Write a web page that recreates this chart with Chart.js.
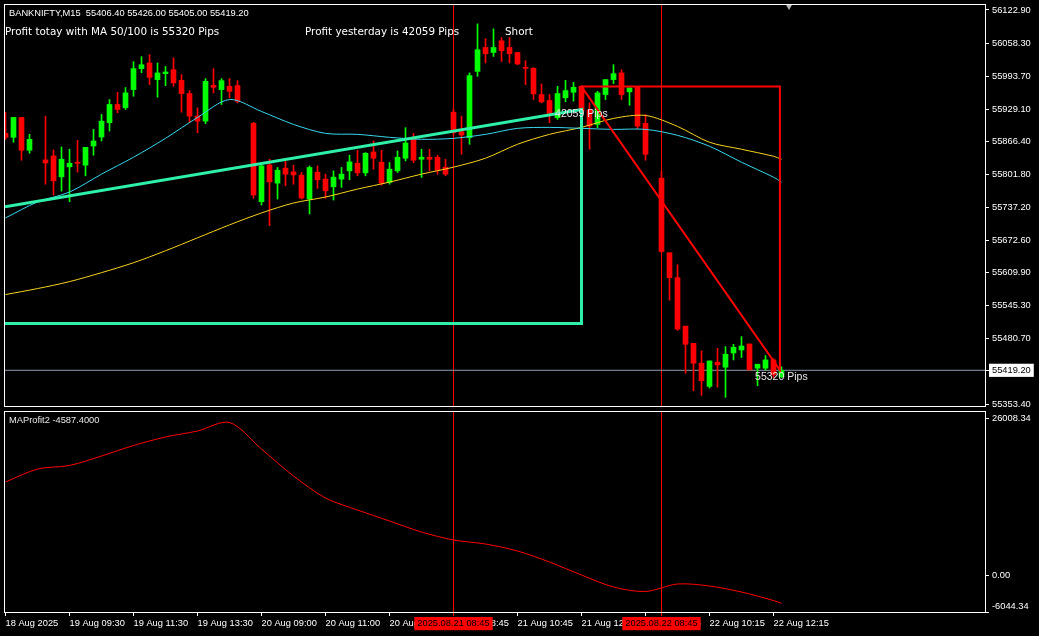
<!DOCTYPE html>
<html>
<head>
<meta charset="utf-8">
<script src="https://cdn.jsdelivr.net/npm/chart.js@4.4.1/dist/chart.umd.min.js"></script>
<style>
  html, body { margin: 0; padding: 0; background: #000; }
  #wrap { position: relative; width: 1039px; height: 636px; background: #000; overflow: hidden; }
  #main { position: absolute; left: 0; top: 0; }
  #sub  { position: absolute; left: 0; top: 409px; }
</style>
</head>
<body>
<div id="wrap">
  <canvas id="main" width="1039" height="410"></canvas>
  <canvas id="sub" width="1039" height="227"></canvas>
</div>
<script>
/* ── Data (BANKNIFTY M15, one entry per bar, null = not read) ── */
const symbol = 'BANKNIFTY';
const period = 'M15';

const opens = [
  55881.9,55874.2,55913.0,55848.9,null,55830.1,55837.8,55797.0,55816.5,55825.6,
  55819.8,55857.3,55874.8,55902.7,55938.3,55931.9,55967.4,56008.3,56019.3,55986.9,
  55998.5,56006.3,55985.5,55959.7,55915.6,55905.8,55975.8,55967.4,55973.9,55975.2,
  null,55901.4,55748.4,55820.3,55784.8,55813.9,55806.7,55800.3,55753.7,55806.2,
  55792.6,55777.6,55792.6,55808.7,55823.6,55804.8,55845.6,55825.6,55786.1,55808.7,
  55833.4,55871.6,55831.4,55835.3,55835.3,55815.9,55923.3,55885.2,55873.6,56003.0,
  56049.6,56039.9,56062.7,56049.6,56039.9,56010.2,56009.0,55957.7,55946.1,55912.5,
  55951.3,55962.2,55973.9,55927.2,55899.4,55957.7,55986.9,55999.9,55963.0,55972.7,
  55901.4,null,55794.5,55648.8,55600.2,55505.5,55471.9,55433.1,55387.8,55435.0,
  55425.3,55453.1,55458.9,55470.6,55423.4,55423.4,55439.5,55406.4
];
const highs = [
  55922.8,55913.0,55913.0,55880.0,null,55915.6,55849.5,55855.3,55850.9,55868.3,
  55854.7,55889.7,55918.9,55948.0,55962.2,55971.3,56021.9,56031.6,56035.5,56019.3,
  56012.7,56029.6,55996.6,55965.5,55931.9,55988.8,56008.3,55988.8,55988.8,55984.9,
  null,55903.3,55821.7,55831.4,55815.3,55828.1,55819.8,55805.6,55818.4,55818.4,
  55802.3,55808.7,55815.3,55839.2,55848.9,55844.4,55867.0,55848.9,55825.0,55847.6,
  55893.0,55881.9,55850.9,55850.9,55839.2,55831.4,55928.6,55915.6,55999.9,56095.7,
  56066.6,56086.0,56069.1,56069.1,56039.9,56023.8,56010.2,55978.5,55957.7,55973.9,
  55985.5,55981.6,55975.2,55941.6,55964.1,55986.9,56016.0,56006.3,55970.8,55973.9,
  55918.9,null,55808.1,55648.8,55625.4,55505.5,55471.9,55457.0,55437.5,55462.2,
  55465.5,55470.0,55484.9,55470.6,55431.1,55448.0,55442.0,55426.0
];
const lows = [
  55870.3,55864.5,55829.5,55843.1,null,55782.8,55761.5,55769.2,55748.4,55806.2,
  55799.0,55839.2,55867.0,55886.4,55922.2,55928.6,55954.4,56000.5,55977.2,55952.5,
  55975.2,55973.9,55923.3,55902.7,55883.3,55900.8,55961.0,55938.3,55951.3,55941.6,
  null,55755.1,55742.0,55701.8,55753.7,55779.5,55782.8,55753.7,55724.5,55774.5,
  55755.1,55751.8,55776.4,55791.2,55799.0,55799.0,55812.0,55780.9,55782.8,55805.6,
  55828.1,55825.0,55795.9,55808.7,55802.3,55799.0,55878.1,55841.1,55860.6,55993.3,
  56019.3,56032.2,56022.4,56019.3,56016.0,55977.2,55948.0,55941.6,55902.7,55909.2,
  55943.5,55944.7,55922.8,55850.9,55893.0,55948.0,55979.1,55948.0,55936.9,55891.1,
  55829.5,null,55648.8,55556.1,55497.2,55413.6,55379.2,55370.3,55384.5,55386.4,
  55366.4,55439.5,55444.1,55420.0,55389.0,55419.5,55405.0,55405.0
];
const closes = [
  55874.2,55913.0,55848.9,55870.3,null,55824.2,55789.2,55831.4,55823.6,55823.6,
  55854.7,55867.0,55905.8,55938.3,55928.6,55961.0,56008.3,56016.0,55991.3,55999.9,
  56001.8,55980.5,55959.7,55915.6,55905.8,55983.6,55971.9,55984.9,55964.1,55944.7,
  null,55761.5,55818.4,55787.3,55810.0,55802.3,55800.9,55755.6,55815.3,55791.2,
  55769.8,55796.4,55802.3,55826.2,55804.8,55843.1,55833.4,55784.8,55812.0,55835.3,
  55863.1,55829.5,55835.3,55831.4,55810.0,55802.3,55883.3,55878.6,55994.6,56045.2,
  56037.4,56049.6,56043.2,56037.4,56017.4,56009.0,55959.1,55943.5,55920.8,55959.7,
  55965.5,55971.9,55925.3,55896.1,55961.0,55986.9,55998.5,55957.7,55970.8,55896.1,
  55841.1,null,55651.3,55600.2,55499.7,55470.0,55433.1,55398.7,55437.5,55429.8,
  55450.6,55464.2,55466.7,55420.0,55431.1,55439.5,55410.0,55419.2
];

// moving averages and MAProfit2, sampled every 4 bars
const sampleBars = [0,4,8,12,16,20,24,28,32,36,40,44,48,52,56,60,64,68,72,76,80,84,88,92,96,97];
const maFast = [55716.8,55747.9,55767.3,55802.3,55835.3,55872.2,55913.0,55948.0,55924.7,55899.4,
  55881.9,55880.0,55874.2,55870.3,55872.2,55880.0,55891.7,55893.6,55891.7,55889.7,
  55889.7,55878.1,55856.7,55825.6,55796.4,55786.7];
const maSlow = [55567.1,55578.8,55592.4,55609.9,55629.3,55652.6,55677.9,55703.2,55726.5,55745.9,
  55757.6,55773.1,55786.7,55802.3,55815.9,55833.4,55860.6,55880.0,55893.6,55911.1,
  55916.9,55895.5,55864.5,55850.9,55837.2,55831.4];
const maProfit = [15489,17643,18223,19796,21536,22944,23938,25346,20956,16483,
  12839,10851,9029,7206,5881,5218,4059,2236,83,-1905,
  -2650,-1408,-1739,-2733,-4142,-4587.4];

// trade boxes (bar, price)
const yesterdayBars   = [-0.0625, 72, 72, -0.0625];
const yesterdayPrices = [55738.7, 55928.6, 55510.8, 55510.8];
const todayBars       = [72, 96.8, 96.8, 72];
const todayPrices     = [55973.3, 55973.3, 55419.5, 55973.3];

const pipLabels = [
  { text: '42059 Pips', bar: 68.7, price: 55918.9 },
  { text: '55320 Pips', bar: 93.7, price: 55405.8 },
];

const priceTicks = [56122.90,56058.30,55993.70,55929.10,55866.40,55801.80,55737.20,
  55672.60,55609.90,55545.30,55480.70,55419.20,55353.40];
const lastPrice = 55419.20;
const profitTicks = [26008.34, 0, -6044.34];

const timeTickBars = [0,8,16,24,32,40,48,56,64,72,80,88,96];
const timeTickLabels = ['18 Aug 2025','19 Aug 09:30','19 Aug 11:30','19 Aug 13:30','20 Aug 09:00',
  '20 Aug 11:00','20 Aug 13:00','21 Aug 08:45','21 Aug 10:45','21 Aug 12:45','21 Aug 14:45',
  '22 Aug 10:15','22 Aug 12:15'];
const vlineBars = [56, 82];
const vlineLabels = ['2025.08.21 08:45', '2025.08.22 08:45'];

/* ── Shared look ── */
const UP = '#00ff00', DOWN = '#ff0000';
const AXIS_FONT = { family: 'Liberation Sans', size: 9.3 };
const X_MIN = -0.0625, X_MAX = 122.4375;

Chart.defaults.color = '#ffffff';
Chart.defaults.font.family = 'Liberation Sans';

// axes keep the exact plot box (no extra room for overhanging labels)
const noPad = s => { s.paddingTop = 0; s.paddingBottom = 0; s.paddingLeft = 0; s.paddingRight = 0; };

const frame = {
  id: 'frame',
  afterDraw(chart) {
    const { ctx, chartArea: a } = chart;
    ctx.save();
    ctx.strokeStyle = '#ffffff';
    ctx.lineWidth = 1;
    ctx.strokeRect(a.left - 0.5, a.top - 0.5, a.right - a.left + 1, a.bottom - a.top + 1);
    ctx.restore();
  },
};

const pts = (xs, ys) => xs.map((x, i) => ({ x, y: ys[i] }));
const idx = opens.map((o, i) => i).filter(i => opens[i] != null);
const barColor = c => (closes[c.raw.x] >= opens[c.raw.x] ? UP : DOWN);

/* ── Main price window ── */
const mainText = {
  id: 'mainText',
  afterDatasetsDraw(chart) {
    const { ctx, scales: { x, y } } = chart;
    const n = opens.length - 1;
    ctx.save();
    ctx.fillStyle = '#ffffff';
    ctx.textBaseline = 'middle';
    ctx.font = '9.3px "Liberation Sans"';
    ctx.fillText(symbol + ',' + period + '  ' +
      [opens[n], highs[n], lows[n], closes[n]].map(v => v.toFixed(2)).join(' '), 9, 13);
    ctx.font = '10.4px "DejaVu Sans"';
    ctx.fillText('Profit totay with MA 50/100 is 55320 Pips', 5, 32);
    ctx.fillText('Profit yesterday is 42059 Pips', 305, 32);
    ctx.fillText('Short', 505, 32);
    ctx.font = '10.5px "Liberation Sans"';
    ctx.fillStyle = '#e8e8e8';
    pipLabels.forEach(p => ctx.fillText(p.text, x.getPixelForValue(p.bar), y.getPixelForValue(p.price)));
    ctx.restore();
  },
};

new Chart(document.getElementById('main'), {
  type: 'bar',
  data: {
    datasets: [
      { type: 'line', data: [{ x: 97.94, y: 56129.7 }], showLine: false,
        pointStyle: 'triangle', rotation: 180, pointRadius: 3.5,
        pointBackgroundColor: '#b8b8b8', pointBorderWidth: 0, clip: false },
      { type: 'line', data: pts(todayBars, todayPrices), borderColor: '#ff0000',
        borderWidth: 2, pointRadius: 0, tension: 0, fill: false },
      { type: 'line', data: pts(yesterdayBars, yesterdayPrices), borderColor: '#2ef0a8',
        borderWidth: 3, pointRadius: 0, tension: 0, fill: false },
      { type: 'line', data: pts(sampleBars, maFast), borderColor: '#38d8ee',
        borderWidth: 1, pointRadius: 0, tension: 0.3, fill: false },
      { type: 'line', data: pts(sampleBars, maSlow), borderColor: '#f8d41c',
        borderWidth: 1, pointRadius: 0, tension: 0.3, fill: false },
      { data: idx.map(i => ({ x: i, y: [opens[i], closes[i]] })), backgroundColor: barColor,
        barThickness: 5, grouped: false, minBarLength: 1, borderWidth: 0 },
      { data: idx.map(i => ({ x: i, y: [lows[i], highs[i]] })), backgroundColor: barColor,
        barThickness: 1, grouped: false, borderWidth: 0 },
      { type: 'line', data: [{ x: X_MIN, y: lastPrice }, { x: X_MAX, y: lastPrice }],
        borderColor: '#8e9bb0', borderWidth: 1, pointRadius: 0 },
    ],
  },
  options: {
    responsive: false,
    animation: false,
    events: [],
    layout: { padding: { left: 5, top: 5, right: 0, bottom: 2 } },
    plugins: { legend: { display: false }, tooltip: { enabled: false } },
    scales: {
      x: {
        type: 'linear', min: X_MIN, max: X_MAX, offset: false,
        afterBuildTicks: s => { s.ticks = vlineBars.map(v => ({ value: v })); },
        afterFit: s => { s.height = 0; noPad(s); },
        ticks: { display: false },
        grid: { color: '#ff0000', drawTicks: false, offset: false },
        border: { display: false },
      },
      y: {
        position: 'right', min: 55349.5, max: 56132.6,
        afterBuildTicks: s => { s.ticks = priceTicks.map(v => ({ value: v })); },
        afterFit: s => { s.width = 54; noPad(s); },
        ticks: {
          font: AXIS_FONT, padding: 3, autoSkip: false,
          callback: v => v.toFixed(2),
          color: c => (c.tick && c.tick.value === lastPrice ? '#000000' : '#ffffff'),
          showLabelBackdrop: c => !!(c.tick && c.tick.value === lastPrice),
          backdropColor: '#ffffff',
          backdropPadding: { x: 3, y: 1 },
        },
        grid: { drawOnChartArea: false, drawTicks: true, tickLength: 4, color: '#ffffff' },
        border: { display: false },
      },
    },
  },
  plugins: [frame, mainText],
});

/* ── MAProfit2 sub window ── */
const subText = {
  id: 'subText',
  afterDatasetsDraw(chart) {
    const { ctx } = chart;
    ctx.save();
    ctx.fillStyle = '#e8e8e8';
    ctx.textBaseline = 'middle';
    ctx.font = '9.3px "Liberation Sans"';
    ctx.fillText('MAProfit2 ' + maProfit[maProfit.length - 1].toFixed(4), 9, 11);
    ctx.restore();
  },
};

new Chart(document.getElementById('sub'), {
  type: 'line',
  data: {
    datasets: [
      { data: pts(sampleBars, maProfit), borderColor: '#ff0000', borderWidth: 1,
        pointRadius: 0, tension: 0.3, fill: false },
    ],
  },
  options: {
    responsive: false,
    animation: false,
    events: [],
    layout: { padding: { left: 5, top: 3, right: 0, bottom: 0 } },
    plugins: { legend: { display: false }, tooltip: { enabled: false } },
    scales: {
      x: {
        type: 'linear', min: X_MIN, max: X_MAX, weight: 1,
        afterBuildTicks: s => { s.ticks = timeTickBars.map(v => ({ value: v })); },
        afterFit: s => { s.height = 24; noPad(s); },
        ticks: {
          font: AXIS_FONT, color: '#ffffff', align: 'start', padding: 2,
          autoSkip: false, maxRotation: 0,
          callback: (v, i) => timeTickLabels[i],
        },
        grid: { drawOnChartArea: false, drawTicks: true, tickLength: 4, color: '#ffffff' },
        border: { display: false },
      },
      // red date markers: zero-height axis sharing the time axis row,
      // mirrored with a negative padding so its labels are not clipped
      xMark: {
        axis: 'x', type: 'linear', position: 'bottom', min: X_MIN, max: X_MAX, weight: 0,
        afterBuildTicks: s => { s.ticks = vlineBars.map(v => ({ value: v })); },
        afterFit: s => { s.height = 0; noPad(s); },
        ticks: {
          font: AXIS_FONT, color: '#000000', mirror: true, padding: -17.2, z: 1,
          autoSkip: false, maxRotation: 0,
          callback: (v, i) => vlineLabels[i],
          showLabelBackdrop: true, backdropColor: '#ff0000',
          backdropPadding: { x: 3, y: 1 },
        },
        grid: { color: '#ff0000', drawTicks: true, tickLength: 4 },
        border: { display: false },
      },
      y: {
        position: 'right', min: -6044.34, max: 27085,
        afterBuildTicks: s => { s.ticks = profitTicks.map(v => ({ value: v })); },
        afterFit: s => { s.width = 54; noPad(s); },
        ticks: {
          font: AXIS_FONT, color: '#ffffff', padding: 3, autoSkip: false,
          callback: v => (v === profitTicks[2] ? [v.toFixed(2), ''] : v.toFixed(2)),
        },
        grid: { drawOnChartArea: false, drawTicks: true, tickLength: 4, color: '#ffffff' },
        border: { display: false },
      },
    },
  },
  plugins: [frame, subText],
});
</script>
</body>
</html>
